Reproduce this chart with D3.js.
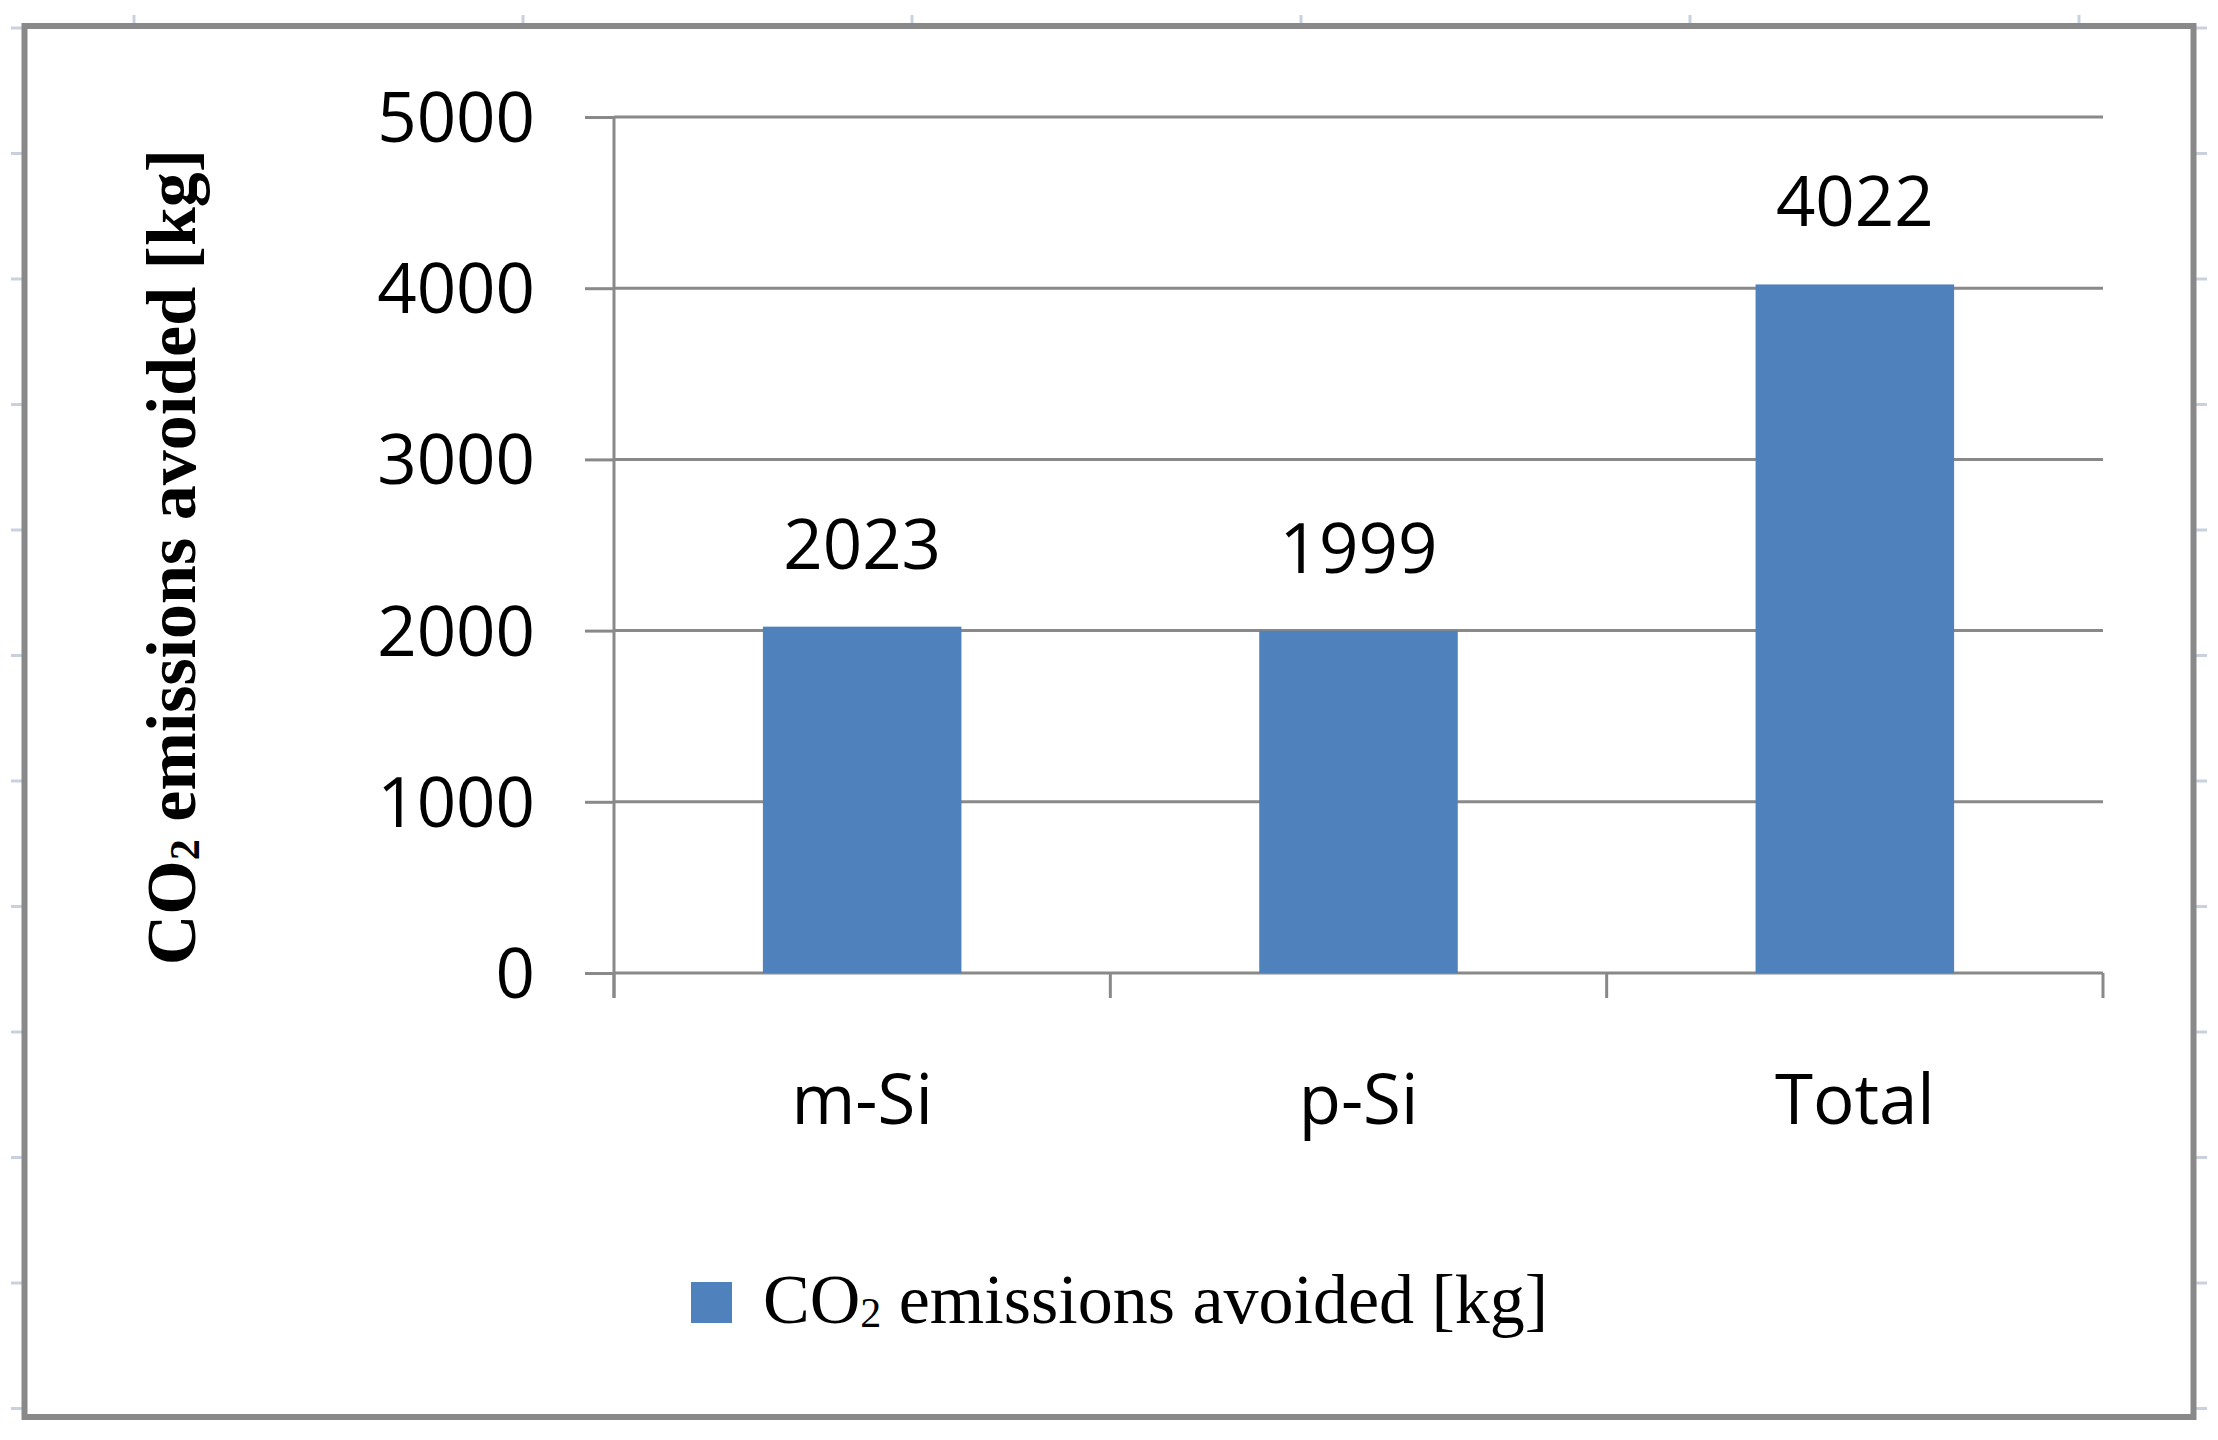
<!DOCTYPE html>
<html>
<head>
<meta charset="utf-8">
<script src="https://cdn.jsdelivr.net/npm/d3@7"></script>
<style>
  body { margin: 0; background: #fff; }
</style>
</head>
<body>
<div id="bar-chart"></div>
<script>
// chart data
const categories = ["m-Si", "p-Si", "Total"];
const emissionsAvoided = [2023, 1999, 4022];
const yTicks = [0, 1000, 2000, 3000, 4000, 5000];
const seriesName = ["CO", "2", " emissions avoided [kg]"];

const W = 2218;
const H = 1440;
const margin = { top: 117, right: 115, bottom: 467, left: 614 };
const width = W - margin.left - margin.right;
const height = H - margin.top - margin.bottom;

const gridColor = "#898989";
const barColor = "#4f81bd";
const sans = "'Open Sans', 'Liberation Sans', sans-serif";
const serif = "'Liberation Serif', 'DejaVu Serif', serif";

const data = categories.map((c, i) => ({ cat: c, value: emissionsAvoided[i] }));

const svg = d3
  .select("#bar-chart")
  .append("svg")
  .attr("width", W)
  .attr("height", H);

svg.append("rect").attr("width", W).attr("height", H).attr("fill", "#fff");

// faint ruler marks outside the frame
svg
  .selectAll(".mark-top")
  .data(d3.range(6))
  .enter()
  .append("line")
  .attr("x1", (d) => 134 + d * 389)
  .attr("x2", (d) => 134 + d * 389)
  .attr("y1", 15)
  .attr("y2", 24)
  .attr("stroke", "#c9d1de")
  .attr("stroke-width", 3);

[11, 2196].forEach((x0) => {
  svg
    .selectAll(null)
    .data(d3.range(12))
    .enter()
    .append("line")
    .attr("x1", x0)
    .attr("x2", x0 + 11)
    .attr("y1", (d) => 28 + d * 125.5)
    .attr("y2", (d) => 28 + d * 125.5)
    .attr("stroke", "#c9d1de")
    .attr("stroke-width", 3);
});

// outer frame
svg
  .append("rect")
  .attr("x", 24.5)
  .attr("y", 26)
  .attr("width", 2169)
  .attr("height", 1391)
  .attr("fill", "none")
  .attr("stroke", gridColor)
  .attr("stroke-width", 6);

const chart = svg
  .append("g")
  .attr("transform", `translate(${margin.left},${margin.top})`);

// scales
const x = d3
  .scaleBand()
  .domain(categories)
  .range([0, width])
  .paddingInner(0.6)
  .paddingOuter(0.3);

const y = d3.scaleLinear().domain([0, 5000]).range([height, 0]);

// gridlines
chart
  .selectAll(".grid")
  .data(yTicks)
  .enter()
  .append("line")
  .attr("class", "grid")
  .attr("x1", 0)
  .attr("x2", width)
  .attr("y1", (d) => y(d))
  .attr("y2", (d) => y(d))
  .attr("stroke", gridColor)
  .attr("stroke-width", 3);

// bars
chart
  .selectAll(".bar")
  .data(data)
  .enter()
  .append("rect")
  .attr("class", "bar")
  .attr("x", (d) => x(d.cat))
  .attr("y", (d) => y(d.value))
  .attr("width", x.bandwidth())
  .attr("height", (d) => y(0) - y(d.value))
  .attr("fill", barColor);

// y axis
const yAxis = chart
  .append("g")
  .call(
    d3
      .axisLeft(y)
      .tickValues(yTicks)
      .tickFormat(d3.format("d"))
      .tickSize(29)
      .tickPadding(50)
      .tickSizeOuter(0)
  );
yAxis.select(".domain").remove();
yAxis.selectAll("line").attr("stroke", gridColor).attr("stroke-width", 3);
yAxis
  .selectAll("text")
  .attr("dy", "0.355em")
  .style("font-family", sans)
  .style("font-size", "69px")
  .attr("fill", "#000");

// vertical axis line, reaching down to the first category tick
chart
  .append("line")
  .attr("x1", 0)
  .attr("x2", 0)
  .attr("y1", y(5000))
  .attr("y2", height + 25)
  .attr("stroke", gridColor)
  .attr("stroke-width", 3);

// x axis ticks between categories
chart
  .selectAll(".xtick")
  .data(d3.range(categories.length + 1))
  .enter()
  .append("line")
  .attr("class", "xtick")
  .attr("x1", (d) => d * x.step())
  .attr("x2", (d) => d * x.step())
  .attr("y1", height)
  .attr("y2", height + 25)
  .attr("stroke", gridColor)
  .attr("stroke-width", 3);

const xAxis = chart
  .append("g")
  .attr("transform", `translate(0,${height})`)
  .call(d3.axisBottom(x).tickSize(0).tickPadding(102));
xAxis.select(".domain").remove();
xAxis
  .selectAll("text")
  .style("font-family", sans)
  .style("font-size", "69px")
  .attr("fill", "#000");

// value labels
chart
  .selectAll(".value-label")
  .data(data)
  .enter()
  .append("text")
  .attr("class", "value-label")
  .attr("x", (d) => x(d.cat) + x.bandwidth() / 2)
  .attr("y", (d) => y(d.value) - 58)
  .attr("text-anchor", "middle")
  .style("font-family", sans)
  .style("font-size", "69px")
  .attr("fill", "#000")
  .text((d) => d.value);

// write "CO2 emissions avoided [kg]" with a subscript 2
function co2Label(sel) {
  sel.append("tspan").text(seriesName[0]);
  sel.append("tspan").attr("dy", 4).style("font-size", "60%").text(seriesName[1]);
  sel.append("tspan").attr("dy", -4).text(seriesName[2]);
}

// y axis title
svg
  .append("text")
  .attr("transform", "translate(195,557) rotate(-90)")
  .attr("text-anchor", "middle")
  .style("font-family", serif)
  .style("font-size", "70px")
  .style("font-weight", "bold")
  .attr("fill", "#000")
  .call(co2Label);

// legend
svg
  .append("rect")
  .attr("x", 691)
  .attr("y", 1282)
  .attr("width", 41)
  .attr("height", 41)
  .attr("fill", barColor);

svg
  .append("text")
  .attr("x", 763)
  .attr("y", 1323)
  .style("font-family", serif)
  .style("font-size", "70px")
  .attr("fill", "#000")
  .call(co2Label);
</script>
</body>
</html>
